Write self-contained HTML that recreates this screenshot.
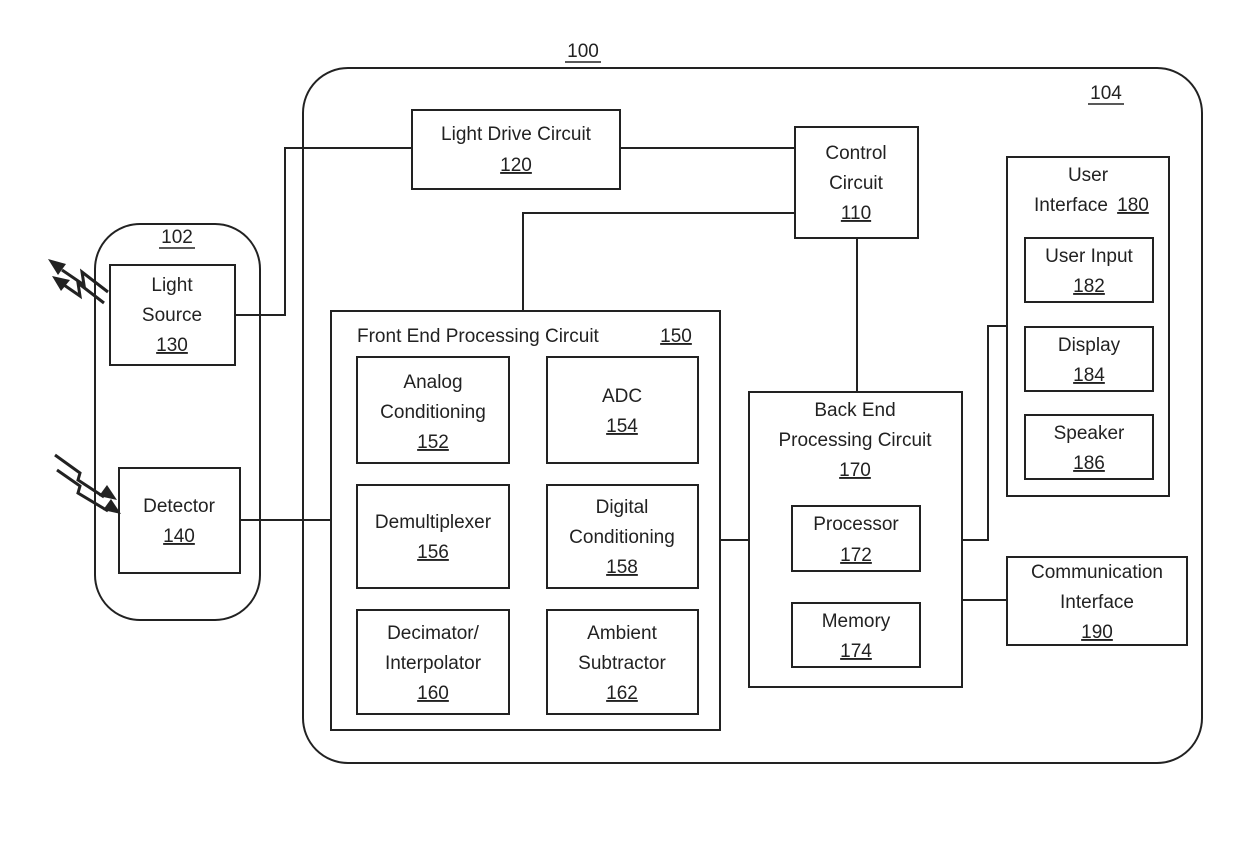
<!DOCTYPE html>
<html><head><style>body{margin:0;background:#fff}svg{display:block}text{font-family:"Liberation Sans",sans-serif;font-size:19px;fill:#222;text-anchor:middle}</style></head><body>
<svg width="1240" height="868" viewBox="0 0 1240 868" xmlns="http://www.w3.org/2000/svg">
<g fill="none" stroke="#222" stroke-width="2">
<rect x="303" y="68" width="899" height="695" rx="45"/>
<rect x="95" y="224" width="165" height="396" rx="45"/>
<rect x="110" y="265" width="125" height="100"/>
<rect x="119" y="468" width="121" height="105"/>
<rect x="412" y="110" width="208" height="79"/>
<rect x="795" y="127" width="123" height="111"/>
<rect x="331" y="311" width="389" height="419"/>
<rect x="357" y="357" width="152" height="106"/>
<rect x="547" y="357" width="151" height="106"/>
<rect x="357" y="485" width="152" height="103"/>
<rect x="547" y="485" width="151" height="103"/>
<rect x="357" y="610" width="152" height="104"/>
<rect x="547" y="610" width="151" height="104"/>
<rect x="749" y="392" width="213" height="295"/>
<rect x="792" y="506" width="128" height="65"/>
<rect x="792" y="603" width="128" height="64"/>
<rect x="1007" y="157" width="162" height="339"/>
<rect x="1025" y="238" width="128" height="64"/>
<rect x="1025" y="327" width="128" height="64"/>
<rect x="1025" y="415" width="128" height="64"/>
<rect x="1007" y="557" width="180" height="88"/>
<polyline points="235,315 285,315 285,148 412,148"/>
<line x1="620" y1="148" x2="795" y2="148"/>
<polyline points="523,311 523,213 795,213"/>
<line x1="857" y1="238" x2="857" y2="392"/>
<line x1="240" y1="520" x2="331" y2="520"/>
<line x1="720" y1="540" x2="749" y2="540"/>
<polyline points="962,540 988,540 988,326 1007,326"/>
<line x1="962" y1="600" x2="1007" y2="600"/>
</g>
<g fill="none" stroke="#222" stroke-width="3">
<polyline points="108,292 82,272 84,285 62,270"/>
<polyline points="104,303 78,283 80,296 64,285"/>
<polyline points="55,455 80,473 78,480 104,497"/>
<polyline points="57,470 80,486 78,493 108,511"/>
</g>
<g fill="#222">
<polygon points="48,259 66,264 58,275"/>
<polygon points="52,276 70,280 61,291"/>
<polygon points="117,500 99,496 107,485"/>
<polygon points="121,514 103,510 111,499"/>
</g>
<g stroke="#222" stroke-width="1.5">
<line x1="565" y1="62" x2="601" y2="62"/><line x1="1088" y1="104" x2="1124" y2="104"/>
<line x1="159" y1="248" x2="195" y2="248"/>
</g>
<text x="583" y="57">100</text><text x="1106" y="99">104</text><text x="177" y="243">102</text>
<text x="172" y="291">Light</text><text x="172" y="321">Source</text><text x="172" y="351" text-decoration="underline">130</text>
<text x="179" y="512">Detector</text><text x="179" y="542" text-decoration="underline">140</text>
<text x="516" y="140">Light Drive Circuit</text><text x="516" y="171" text-decoration="underline">120</text>
<text x="856" y="159">Control</text><text x="856" y="189">Circuit</text><text x="856" y="219" text-decoration="underline">110</text>
<text x="357" y="342" style="text-anchor:start">Front End Processing Circuit</text><text x="676" y="342" text-decoration="underline">150</text>
<text x="433" y="388">Analog</text><text x="433" y="418">Conditioning</text><text x="433" y="448" text-decoration="underline">152</text>
<text x="622" y="402">ADC</text><text x="622" y="432" text-decoration="underline">154</text>
<text x="433" y="528">Demultiplexer</text><text x="433" y="558" text-decoration="underline">156</text>
<text x="622" y="513">Digital</text><text x="622" y="543">Conditioning</text><text x="622" y="573" text-decoration="underline">158</text>
<text x="433" y="639">Decimator/</text><text x="433" y="669">Interpolator</text><text x="433" y="699" text-decoration="underline">160</text>
<text x="622" y="639">Ambient</text><text x="622" y="669">Subtractor</text><text x="622" y="699" text-decoration="underline">162</text>
<text x="855" y="416">Back End</text><text x="855" y="446">Processing Circuit</text><text x="855" y="476" text-decoration="underline">170</text>
<text x="856" y="530">Processor</text><text x="856" y="561" text-decoration="underline">172</text>
<text x="856" y="627">Memory</text><text x="856" y="657" text-decoration="underline">174</text>
<text x="1088" y="181">User</text><text x="1071" y="211">Interface</text><text x="1133" y="211" text-decoration="underline">180</text>
<text x="1089" y="262">User Input</text><text x="1089" y="292" text-decoration="underline">182</text>
<text x="1089" y="351">Display</text><text x="1089" y="381" text-decoration="underline">184</text>
<text x="1089" y="439">Speaker</text><text x="1089" y="469" text-decoration="underline">186</text>
<text x="1097" y="578">Communication</text><text x="1097" y="608">Interface</text><text x="1097" y="638" text-decoration="underline">190</text>
</svg>
</body></html>
